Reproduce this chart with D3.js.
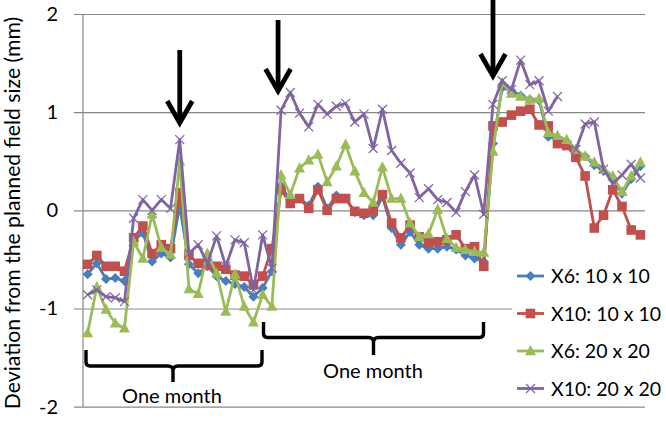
<!DOCTYPE html>
<html><head><meta charset="utf-8">
<script src="https://cdn.jsdelivr.net/npm/d3@7/dist/d3.min.js"></script>
<style>body{margin:0;background:#fff}svg{display:block}</style>
</head><body>
<script>
const seriesNames = ["X6: 10 x 10", "X10: 10 x 10", "X6: 20 x 20", "X10: 20 x 20"];
const seriesColors = ["#4A7EBB", "#C0504D", "#9BBB59", "#8064A2"];
const seriesMarkers = ["diamond", "square", "triangle", "cross"];
const yTicks = [-2, -1, 0, 1, 2];

const x6_10 = [-0.65,-0.54,-0.70,-0.69,-0.72,-0.31,-0.23,-0.52,-0.44,-0.48,0.05,
 -0.55,-0.64,-0.57,-0.67,-0.72,-0.75,-0.78,-0.88,-0.79,-0.62,
 0.25,0.10,0.12,0.05,0.24,0.02,0.15,0.12,-0.02,-0.05,
 -0.05,0.14,-0.18,-0.35,-0.22,-0.35,-0.39,-0.39,-0.37,-0.40,
 -0.46,-0.49,-0.52,0.68,1.25,1.22,1.17,1.13,1.12,0.75,
 0.72,0.70,0.60,0.55,0.46,0.40,0.33,0.17,0.32,0.45];
const x10_10 = [-0.55,-0.46,-0.57,-0.57,-0.62,-0.28,-0.16,-0.44,-0.35,-0.39,0.18,
 -0.46,-0.54,-0.55,-0.57,-0.60,-0.66,-0.67,-0.76,-0.67,-0.39,
 0.21,0.07,0.12,0.02,0.21,0.00,0.12,0.12,-0.01,-0.03,
 0.00,0.16,-0.13,-0.28,-0.15,-0.27,-0.33,-0.32,-0.30,-0.25,
 -0.39,-0.37,-0.57,0.86,0.90,0.97,1.01,1.03,0.87,0.86,
 0.68,0.66,0.54,0.35,-0.18,-0.05,0.21,0.04,-0.20,-0.25];
const x6_20 = [-1.25,-0.78,-1.01,-1.15,-1.20,-0.32,-0.49,-0.04,-0.38,-0.45,0.50,
 -0.80,-0.85,-0.44,-0.64,-1.03,-0.65,-0.98,-1.14,-0.86,-0.98,
 0.36,0.16,0.43,0.51,0.57,0.29,0.45,0.67,0.40,0.18,
 0.08,0.44,0.12,0.12,-0.13,-0.27,-0.24,0.01,-0.29,-0.38,
 -0.40,-0.42,-0.43,0.60,1.30,1.19,1.16,1.13,1.14,0.79,
 0.76,0.72,0.62,0.55,0.49,0.42,0.35,0.19,0.35,0.49];
const x10_20 = [-0.86,-0.81,-0.88,-0.89,-0.93,-0.08,0.11,0.00,0.11,0.02,0.72,
 -0.44,-0.35,-0.54,-0.26,-0.57,-0.30,-0.33,-0.81,-0.25,-0.59,
 1.02,1.20,0.99,0.85,1.08,0.98,1.06,1.09,0.90,0.98,
 0.63,1.03,0.61,0.48,0.38,0.13,0.22,0.11,0.08,-0.02,
 0.19,0.36,-0.04,1.08,1.32,1.23,1.53,1.28,1.32,1.01,
 1.16,null,0.62,0.88,0.90,0.42,0.27,0.36,0.47,0.33];
const allSeries = [x6_10, x10_10, x6_20, x10_20];

const arrowIdx = [10, 21, 44];
const bracketText = ["One month", "One month"];

const W = 666, H = 426;
const svg = d3.select("body").append("svg").attr("width", W).attr("height", H);

const pL = 83, pR = 645, pT = 14, pB = 406.7;
const x = d3.scalePoint().domain(d3.range(x6_10.length)).range([pL, pR]).padding(0.5);
const y = d3.scaleLinear().domain([-2, 2]).range([pB, pT]);
const FONT = "Lato, 'Open Sans', sans-serif";

// grid + tick labels
const yAxis = d3.axisLeft(y).tickValues(yTicks).tickSize(-(pR - 74)).tickPadding(16).tickFormat(d => String(d));
const ga = svg.append("g").attr("transform", "translate(74,0)").call(yAxis);
ga.select(".domain").remove();
ga.selectAll(".tick line").attr("stroke", "#878787").attr("stroke-width", 1.2);
ga.selectAll(".tick text").attr("font-family", FONT).attr("font-size", 20).attr("fill", "#000");
svg.append("line").attr("x1", pL).attr("x2", pL).attr("y1", pT).attr("y2", pB)
  .attr("stroke", "#878787").attr("stroke-width", 1.2);

// y title
svg.append("text").attr("transform", `translate(20,${H / 2}) rotate(-90)`)
  .attr("text-anchor", "middle").attr("font-family", FONT).attr("font-size", 21.2)
  .text("Deviation from the planned field size (mm)");

function marker(g, type, color, cx, cy) {
  if (type === "diamond") {
    g.append("path").attr("d", `M${cx},${cy-5}L${cx+5},${cy}L${cx},${cy+5}L${cx-5},${cy}Z`).attr("fill", color);
  } else if (type === "square") {
    g.append("rect").attr("x", cx-4.8).attr("y", cy-4.8).attr("width", 9.6).attr("height", 9.6).attr("fill", color);
  } else if (type === "triangle") {
    g.append("path").attr("d", `M${cx},${cy-6}L${cx+5.5},${cy+4.3}L${cx-5.5},${cy+4.3}Z`).attr("fill", color);
  } else {
    g.append("path").attr("d", `M${cx-4.5},${cy-4.5}L${cx+4.5},${cy+4.5}M${cx+4.5},${cy-4.5}L${cx-4.5},${cy+4.5}`)
      .attr("stroke", color).attr("stroke-width", 1.2).attr("fill", "none");
  }
}

const lineGen = d3.line().defined(d => d != null).x((d, i) => x(i)).y(d => y(d));
allSeries.forEach((data, s) => {
  const g = svg.append("g");
  g.append("path").datum(data).attr("d", lineGen)
    .attr("fill", "none").attr("stroke", seriesColors[s]).attr("stroke-width", 2.8).attr("stroke-linejoin", "round");
  data.forEach((d, i) => { if (d != null) marker(g, seriesMarkers[s], seriesColors[s], x(i), y(d)); });
});

// legend
svg.append("rect").attr("x", 512).attr("y", 258).attr("width", 154).attr("height", 142).attr("fill", "#fff");
seriesNames.forEach((n, s) => {
  const ly = 276 + s * 37.5;
  const g = svg.append("g");
  g.append("line").attr("x1", 517).attr("x2", 544).attr("y1", ly).attr("y2", ly)
    .attr("stroke", seriesColors[s]).attr("stroke-width", 2.8);
  marker(g, seriesMarkers[s], seriesColors[s], 530.5, ly);
  g.append("text").attr("x", 551).attr("y", ly + 7).attr("font-family", FONT)
    .attr("font-size", 19.5).text(n);
});

// arrows
const arrowTop = [50, 20, 0], arrowTip = [126, 94, 79], arrowDx = [0, -3, 0];
arrowIdx.forEach((idx, k) => {
  const ax = x(idx) + arrowDx[k];
  const g = svg.append("g").attr("stroke", "#000").attr("fill", "none").attr("stroke-width", 4.8);
  g.append("line").attr("x1", ax).attr("x2", ax).attr("y1", arrowTop[k]).attr("y2", arrowTip[k] - 3);
  g.append("path").attr("d", `M${ax-12.5},${arrowTip[k]-25}L${ax},${arrowTip[k]-3}L${ax+12.5},${arrowTip[k]-25}`)
    .attr("stroke-linejoin", "miter");
});

// brackets
const brackets = [
  {x0: 86, x1: 262, xc: 173, bt: 350, bb: 366, stub: 382, tx: 172, ty: 403},
  {x0: 263.5, x1: 483.5, xc: 373.5, bt: 322, bb: 337.5, stub: 355, tx: 373, ty: 378}
];
brackets.forEach((b, k) => {
  const r = 4;
  const p = `M${b.x0},${b.bt}L${b.x0},${b.bb-r}Q${b.x0},${b.bb} ${b.x0+r},${b.bb}L${b.xc-5},${b.bb}Q${b.xc},${b.bb} ${b.xc},${b.bb+5}L${b.xc},${b.stub}` +
            `M${b.xc},${b.bb+5}Q${b.xc},${b.bb} ${b.xc+5},${b.bb}L${b.x1-r},${b.bb}Q${b.x1},${b.bb} ${b.x1},${b.bb-r}L${b.x1},${b.bt}`;
  svg.append("path").attr("d", p).attr("fill", "none").attr("stroke", "#000").attr("stroke-width", 3.4);
  svg.append("text").attr("x", b.tx).attr("y", b.ty).attr("text-anchor", "middle")
    .attr("font-family", FONT).attr("font-size", 20).text(bracketText[k]);
});
</script>
</body></html>
